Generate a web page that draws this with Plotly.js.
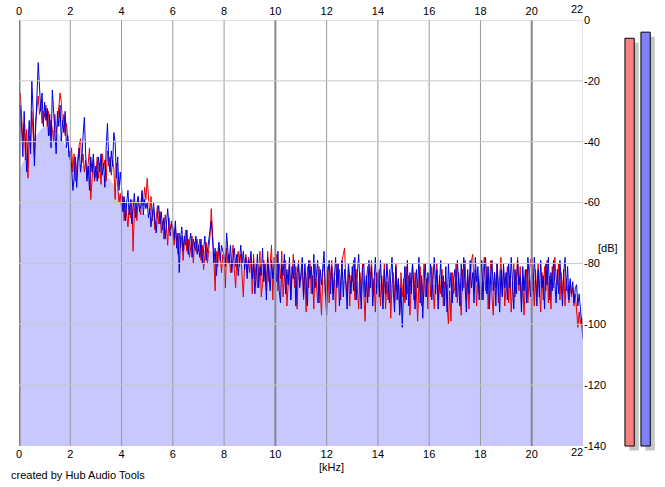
<!DOCTYPE html>
<html>
<head>
<meta charset="utf-8">
<script src="https://cdn.plot.ly/plotly-3.0.1.min.js"></script>
<style>
html,body{margin:0;padding:0;background:#fff;}
#chart{width:665px;height:487px;}
</style>
</head>
<body>
<div id="chart"></div>
<script>
// ---------- data ----------
const binStepKHz = 0.05;      // spacing of spectrum bins (kHz)
const fillStepKHz = 0.5;      // spacing of the averaged (filled) spectrum

const blueDb = [
-66,-28,-35,-45,-30,-38,-50,-41,-33,-44,-20,-30,-48,-36,-26,-14,-22,-30,-24,-35,
-27,-33,-29,-38,-31,-42,-23,-30,-36,-44,-30,-35,-28,-40,-33,-37,-30,-42,-38,-45,
-43,-48,-56,-52,-45,-55,-47,-42,-50,-46,-38,-32,-44,-53,-48,-56,-45,-50,-44,-52,
-48,-53,-45,-50,-44,-51,-47,-55,-42,-34,-46,-50,-43,-48,-37,-40,-52,-45,-56,-50,
-55,-63,-58,-66,-60,-56,-64,-59,-67,-62,-57,-65,-60,-58,-63,-61,-56,-64,-59,-62,
-60,-65,-62,-68,-63,-60,-66,-70,-64,-61,-67,-63,-69,-65,-72,-66,-62,-68,-71,-67,
-68,-72,-66,-75,-70,-83,-72,-68,-76,-71,-74,-69,-77,-73,-70,-78,-72,-75,-71,-77,
-74,-78,-72,-80,-75,-71,-79,-76,-73,-70,-66,-72,-80,-75,-84,-77,-73,-79,-74,-76,
-77,-81,-70,-76,-80,-74,-83,-78,-75,-81,-77,-84,-79,-74,-80,-76,-82,-78,-85,-79,
-80,-76,-85,-79,-90,-83,-77,-88,-81,-84,-75,-86,-80,-92,-78,-84,-89,-79,-85,-81,
-78,-86,-76,-89,-93,-80,-84,-77,-90,-82,-87,-78,-92,-81,-85,-79,-94,-83,-80,-88,
-83,-78,-91,-80,-86,-94,-79,-85,-81,-90,-77,-88,-84,-79,-93,-82,-87,-80,-76,-89,
-97,-83,-79,-90,-81,-92,-84,-78,-88,-80,-94,-85,-79,-91,-82,-87,-95,-80,-86,-90,
-81,-89,-78,-92,-83,-77,-87,-95,-82,-80,-91,-84,-93,-79,-88,-81,-94,-85,-78,-90,
-83,-91,-79,-88,-95,-82,-90,-80,-86,-93,-84,-78,-89,-96,-81,-92,-85,-97,-88,-101,
-89,-81,-92,-79,-94,-83,-90,-80,-87,-95,-82,-88,-78,-93,-84,-98,-86,-80,-91,-83,
-87,-80,-92,-83,-78,-90,-82,-95,-86,-79,-91,-84,-94,-81,-96,-80,-88,-83,-93,-85,
-82,-91,-79,-87,-94,-80,-89,-78,-85,-96,-82,-90,-79,-88,-83,-93,-78,-86,-81,-92,
-86,-79,-92,-82,-78,-90,-81,-95,-84,-79,-89,-83,-94,-80,-87,-96,-82,-91,-80,-88,
-83,-92,-80,-88,-78,-86,-95,-82,-90,-79,-87,-84,-96,-81,-89,-82,-93,-78,-86,-91,
-81,-89,-78,-86,-94,-82,-91,-79,-88,-84,-95,-80,-87,-78,-92,-83,-89,-79,-85,-93,
-82,-90,-79,-86,-94,-83,-78,-89,-81,-92,-85,-90,-86,-93,-88,-87,-94,-90,-96,-99,
-105
];

const redDb = [
-30,-24,-31,-40,-34,-46,-36,-52,-38,-42,-30,-37,-45,-33,-28,-25,-31,-28,-34,-30,
-32,-28,-35,-30,-38,-33,-36,-40,-31,-37,-34,-29,-24,-27,-35,-31,-38,-34,-40,-43,
-46,-42,-50,-44,-53,-48,-45,-41,-39,-47,-44,-50,-46,-52,-48,-42,-59,-50,-46,-53,
-50,-45,-52,-47,-54,-44,-49,-46,-53,-43,-48,-45,-51,-46,-49,-59,-47,-55,-60,-57,
-62,-58,-66,-60,-64,-68,-61,-65,-59,-76,-63,-60,-66,-58,-62,-64,-57,-61,-55,-59,
-52,-60,-64,-58,-66,-62,-69,-65,-61,-67,-63,-70,-66,-72,-64,-68,-74,-65,-69,-66,
-70,-74,-68,-72,-77,-70,-75,-71,-79,-73,-69,-76,-72,-78,-74,-71,-80,-73,-76,-72,
-76,-72,-79,-74,-82,-77,-73,-80,-75,-71,-62,-69,-78,-89,-76,-81,-74,-78,-83,-77,
-79,-88,-75,-80,-77,-83,-78,-74,-82,-88,-79,-76,-81,-77,-84,-91,-80,-77,-83,-78,
-83,-78,-90,-77,-85,-80,-88,-82,-76,-91,-87,-79,-84,-89,-76,-86,-80,-74,-92,-78,
-82,-77,-89,-80,-85,-76,-91,-83,-79,-94,-86,-80,-92,-84,-77,-88,-81,-95,-79,-86,
-85,-80,-92,-83,-96,-81,-88,-79,-90,-84,-95,-80,-86,-93,-81,-89,-97,-83,-79,-90,
-88,-81,-93,-84,-79,-90,-83,-96,-80,-87,-82,-92,-79,-77,-75,-86,-91,-81,-94,-84,
-86,-79,-92,-82,-88,-95,-83,-90,-80,-93,-99,-86,-81,-91,-84,-79,-89,-85,-96,-83,
-88,-82,-94,-84,-90,-80,-95,-86,-92,-82,-98,-87,-83,-93,-80,-89,-85,-96,-83,-91,
-85,-93,-81,-90,-84,-97,-87,-80,-92,-83,-89,-99,-86,-81,-94,-88,-80,-91,-85,-95,
-83,-91,-81,-88,-95,-85,-80,-92,-84,-90,-82,-94,-86,-87,-93,-100,-89,-99,-83,-90,
-88,-80,-93,-83,-90,-97,-82,-88,-79,-92,-84,-95,-86,-79,-77,-89,-82,-94,-84,-90,
-82,-92,-84,-78,-89,-81,-95,-86,-79,-91,-97,-83,-88,-80,-93,-84,-78,-90,-82,-94,
-88,-81,-93,-84,-96,-85,-80,-91,-82,-78,-89,-81,-94,-84,-97,-86,-82,-93,-84,-79,
-78,-86,-94,-82,-91,-80,-88,-96,-83,-92,-81,-89,-79,-93,-84,-95,-81,-88,-78,-85,
-87,-80,-92,-83,-90,-82,-94,-85,-89,-93,-86,-91,-88,-94,-90,-97,-101,-96,-100,-98,
-102
];

const avgDb = [
-50,-40,-35,-37,-44,-48,-50,-52,-58,-62,-64,-67,-70,-73,-75,-76,-78,-80,-81,-82,
-83,-84,-84.5,-85,-85.5,-85.5,-86,-86,-86.5,-87,-87,-87,-87,-87,-86.5,-86,-86,-86,
-86,-86,-85.5,-86,-86.5,-89,-98
];

const xTicks = [0,2,4,6,8,10,12,14,16,18,20,22];
const xTickLabels = ['0','2','4','6','8','10','12','14','16','18','20','22'];
const yTicks = [0,-20,-40,-60,-80,-100,-120,-140];
const yTickLabels = ['0','-20','-40','-60','-80','-100','-120','-140'];

const meterChannels = ['L','R'];
const meterDb = [-6, -4];
const meterColors = ['#f88080','#8080f8'];

// ---------- layout geometry (pixels) ----------
const W = 665, H = 487;
const mL = 19, mR = 5, mT = 20, mB = 30;
const pw = W - mL - mR, ph = H - mT - mB;
const plotRight = 583, plotBottom = 446;
const px2x = p => (p - mL) / pw;
const px2y = p => (H - mB - p) / ph;
const dbPerPx = 140 / (plotBottom - mT);
const yMin = -140, yMax = 0;
const xMin = 0, xMax = 22;
const y3Min = yMin - (H - mB - plotBottom) * dbPerPx;
const shadowPx = 4.5;
const shadowDb = shadowPx * dbPerPx;
const meterSlot = 16; // px per meter
const meterBarPx = 9.3;
const meterLeft = 621.6;

const font = {family: 'Liberation Sans, Arial, sans-serif', size: 11, color: '#000'};

// the last x label is drawn right-aligned at the plot edge (as in the original)
const lastIdx = xTicks.length - 1;
const xTickTextAxis = xTickLabels.map((t, i) => i === lastIdx ? '' : t);

const traces = [
  {x: [xMin, xMax], y: [yMin, yMin], mode: 'lines', line: {width: 0}, hoverinfo: 'skip', showlegend: false},
  {y: avgDb, x0: 0, dx: fillStepKHz, mode: 'lines', line: {width: 0, shape: 'spline', smoothing: 0.6},
   fill: 'tonexty', fillcolor: 'rgb(200,200,255)', hoverinfo: 'skip', showlegend: false},
  {y: redDb, x0: 0, dx: binStepKHz, mode: 'lines', line: {color: 'rgb(235,0,0)', width: 1}, showlegend: false},
  {y: blueDb, x0: 0, dx: binStepKHz, mode: 'lines', line: {color: 'rgb(0,0,225)', width: 1}, showlegend: false},
  {x: [xMin, xMax], y: [yMin, yMin], xaxis: 'x2', yaxis: 'y', mode: 'lines', line: {width: 0}, hoverinfo: 'skip', showlegend: false},
  // meter shadows
  {type: 'bar', x: meterChannels, base: yMin - shadowDb, y: meterDb.map(v => v - yMin),
   xaxis: 'x3', yaxis: 'y3', width: meterBarPx / meterSlot,
   offset: -meterBarPx / meterSlot / 2 + shadowPx / meterSlot,
   marker: {color: '#c4c4c4', line: {width: 0}}, showlegend: false, hoverinfo: 'skip'},
  // meters
  {type: 'bar', x: meterChannels, base: yMin, y: meterDb.map(v => v - yMin),
   xaxis: 'x3', yaxis: 'y3', width: meterBarPx / meterSlot,
   offset: -meterBarPx / meterSlot / 2,
   marker: {color: meterColors, line: {color: '#000', width: 1}}, showlegend: false}
];

const shapes = [];
xTicks.forEach(v => {
  let color = '#999999', width = 1;
  if (v === 0) { color = '#808080'; width = 3; }
  else if (v === 10 || v === 20) { color = '#888888'; width = 2; }
  else if (v === xMax) { color = '#c8c8c8'; width = 1; }
  shapes.push({type: 'line', xref: 'x', yref: 'y', x0: v, x1: v, y0: yMin, y1: yMax,
    line: {color: color, width: width}, layer: 'above'});
});
yTicks.forEach(v => {
  if (v === yMin) return;
  shapes.push({type: 'line', xref: 'x', yref: 'y', x0: xMin, x1: xMax, y0: v, y1: v,
    line: {color: '#c8c8c8', width: 1}, layer: 'above'});
});

const axisCommon = {showgrid: false, zeroline: false, showline: false, ticks: '', tickfont: font, fixedrange: true};

const layout = {
  width: W, height: H,
  margin: {l: mL, r: mR, t: mT, b: mB, pad: 0},
  paper_bgcolor: '#fff', plot_bgcolor: '#fff',
  font: font,
  showlegend: false,
  barmode: 'overlay',
  xaxis: Object.assign({domain: [0, px2x(plotRight)], range: [xMin, xMax], tickvals: xTicks, ticktext: xTickTextAxis}, axisCommon),
  xaxis2: Object.assign({overlaying: 'x', side: 'top', range: [xMin, xMax], tickvals: xTicks, ticktext: xTickTextAxis, ticklabelstandoff: 2}, axisCommon),
  yaxis: Object.assign({domain: [px2y(plotBottom), 1], range: [yMin, yMax], side: 'right', tickvals: yTicks, ticktext: yTickLabels}, axisCommon),
  xaxis3: {domain: [px2x(meterLeft), px2x(meterLeft + meterSlot * 2.3)], range: [-0.5, 1.8], anchor: 'y3',
    showgrid: false, zeroline: false, showline: false, showticklabels: false, ticks: '', fixedrange: true},
  yaxis3: {domain: [0, 1], range: [y3Min, yMax], anchor: 'x3',
    showgrid: false, zeroline: false, showline: false, showticklabels: false, ticks: '', fixedrange: true},
  shapes: shapes,
  annotations: [
    {text: xTickLabels[lastIdx], xref: 'x', yref: 'paper', x: xTicks[lastIdx], y: px2y(9), xshift: 2, showarrow: false, font: font, xanchor: 'right', yanchor: 'middle'},
    {text: xTickLabels[lastIdx], xref: 'x', yref: 'paper', x: xTicks[lastIdx], y: px2y(452), xshift: 2, showarrow: false, font: font, xanchor: 'right', yanchor: 'middle'},
    {text: '[dB]', xref: 'paper', yref: 'paper', x: px2x(608), y: px2y(248), showarrow: false, font: font, xanchor: 'center', yanchor: 'middle'},
    {text: '[kHz]', xref: 'paper', yref: 'paper', x: px2x(331), y: px2y(467), showarrow: false, font: font, xanchor: 'center', yanchor: 'middle'},
    {text: 'created by Hub Audio Tools', xref: 'paper', yref: 'paper', x: px2x(9), y: px2y(475), showarrow: false, font: font, xanchor: 'left', yanchor: 'middle'}
  ]
};

Plotly.newPlot('chart', traces, layout, {staticPlot: true, displayModeBar: false});
</script>
</body>
</html>
